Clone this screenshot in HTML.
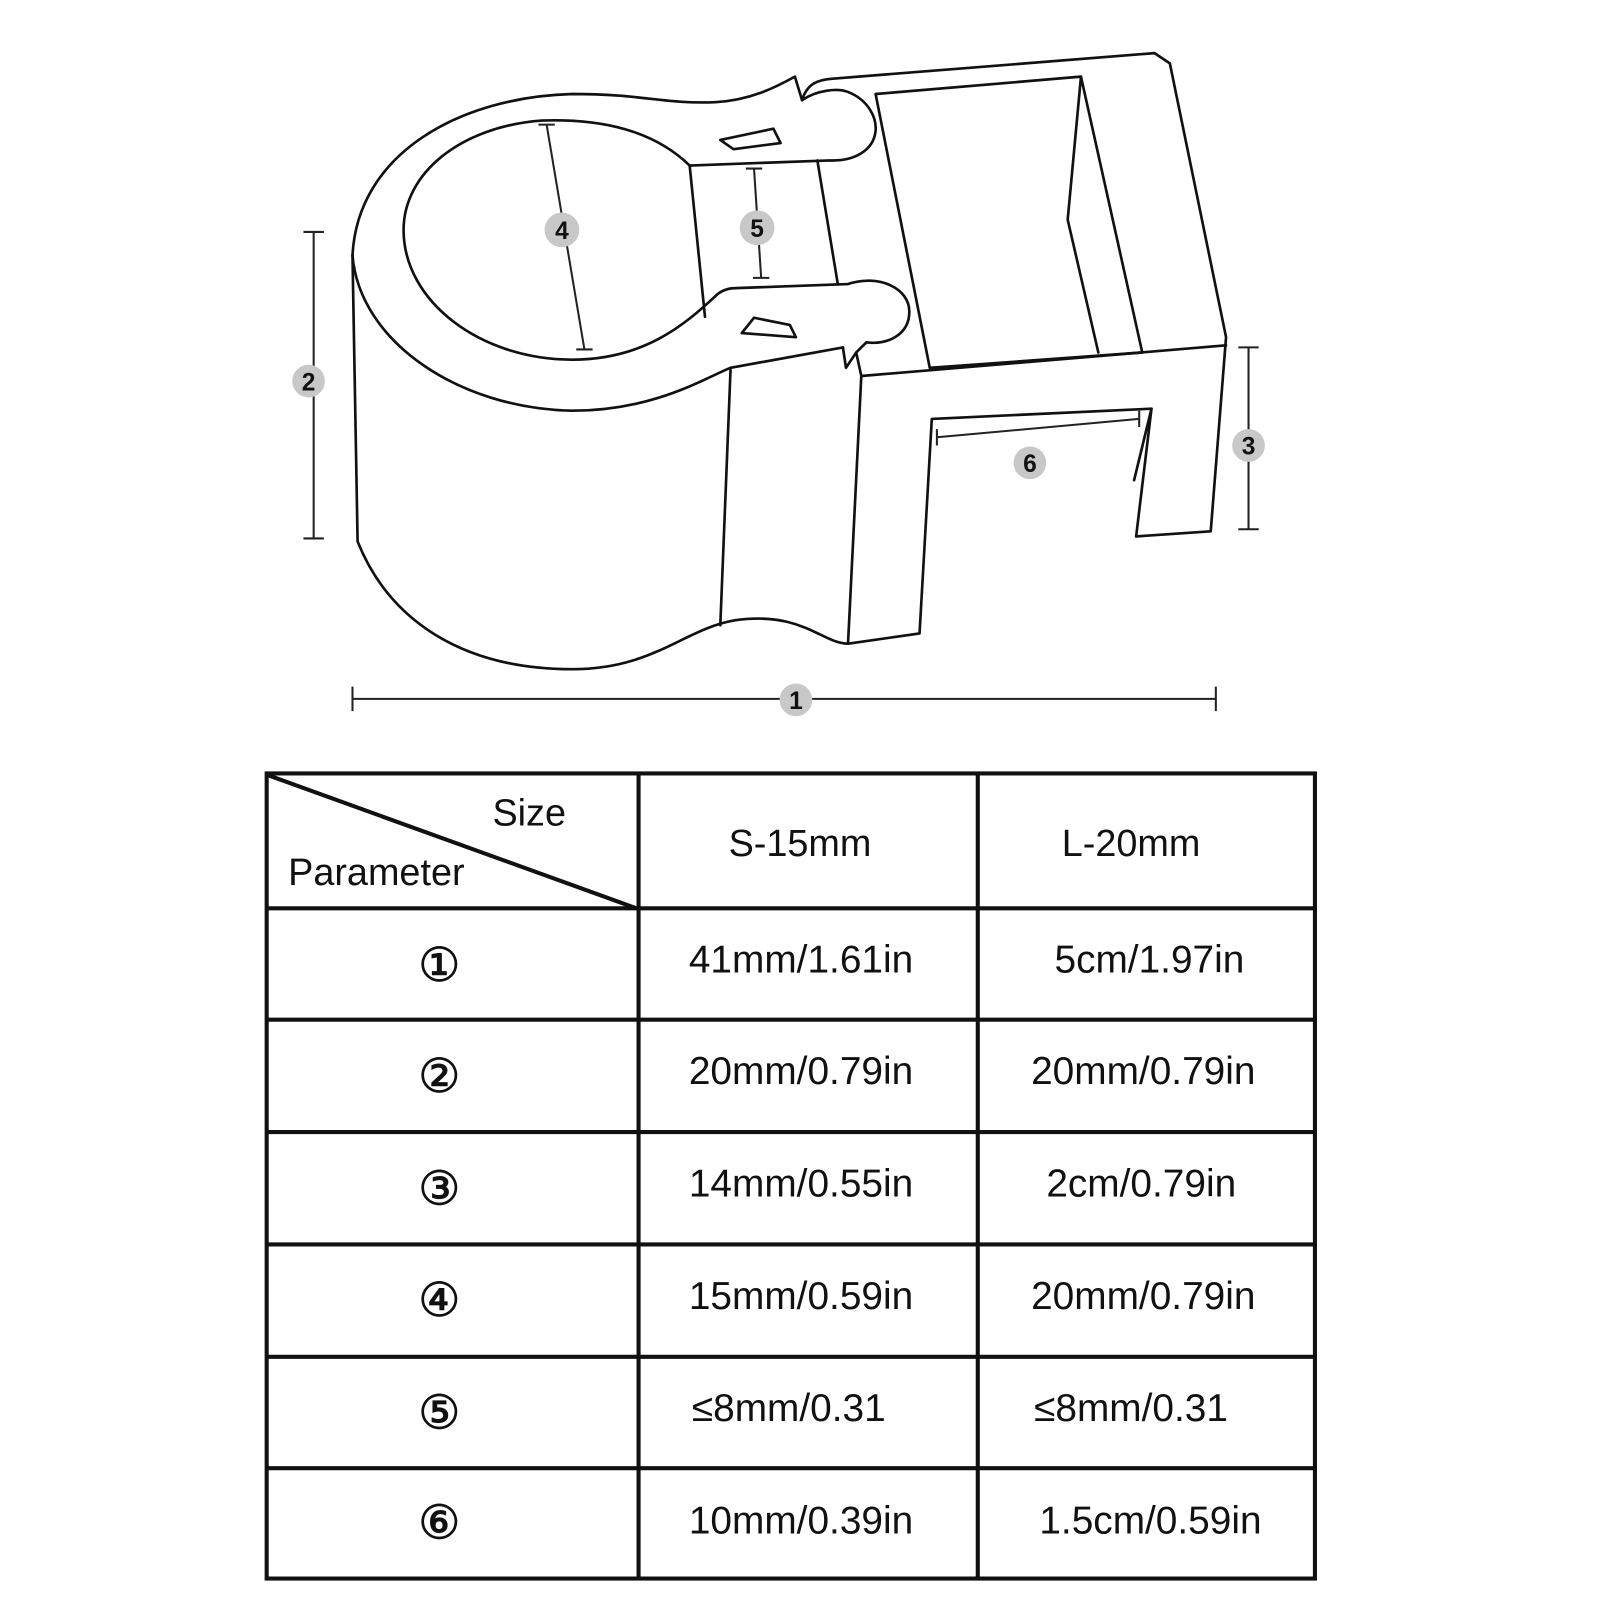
<!DOCTYPE html>
<html><head><meta charset="utf-8"><style>
html,body{margin:0;padding:0;background:#fff}
svg{display:block}
text{font-family:"Liberation Sans","DejaVu Sans",sans-serif;fill:#111}
</style></head><body>
<svg width="1600" height="1600" viewBox="0 0 1566 1566" xmlns="http://www.w3.org/2000/svg">
<rect width="1566" height="1566" fill="#fff"/>
<g fill="none" stroke="#111" stroke-width="2.6" stroke-linejoin="round" stroke-linecap="round">
<path d="M345,250 C350,150 450,95 560,92 C630,92 650,102 700,100 C735,98 760,85 778,75 L785,98"/>
<path d="M785,98 C790,82 800,78 815,77 L1130,52 L1145,62 L1200,330 L1185,520 L1112,525"/>
<path d="M785,98 C800,88 820,86 830,90 C850,98 858,115 857,128 C855,148 835,158 812,157 L675,162"/>
<path d="M675,162 C640,128 590,116 530,118 C450,124 395,170 395,225 C395,295 470,352 560,352 C630,352 670,318 700,290"/>
<path d="M700,290 C705,285 712,282 720,282 L830,278 C860,268 890,282 890,305 C890,328 868,338 848,335 L838,345 L828,360 L825,340"/>
<path d="M675,162 L690,310"/>
<path d="M800,157 L820,278"/>
<path d="M857,92 L1058,75 L1118,345 L910,360 Z"/>
<path d="M1058,75 L1045,215 L1075,345"/>
<path d="M843,368 L1200,338"/>
<path d="M838,345 L843,368 L830,630 L900,620 L912,410 L1127,400 L1112,525"/>
<path d="M1127,400 L1110,470"/>
<path d="M345,250 C352,335 450,400 560,402 C640,402 690,370 715,360 L825,340"/>
<path d="M345,250 L350,530 C380,605 450,655 560,655 C640,655 670,615 720,607 C785,598 805,630 830,630"/>
<path d="M715,362 L705,612"/>
<path d="M705,137 L757,126 L764,140 L718,146 Z"/>
<path d="M738,311 L773,318 L779,330 L726,326 Z"/>
</g>
<g stroke="#222" stroke-width="2" fill="none">
<path d="M345,684 L1190,684 M345,672 L345,696 M1190,672 L1190,696"/>
<path d="M307,227 L307,527 M297,227 L317,227 M297,527 L317,527"/>
<path d="M1222,340 L1222,518 M1212,340 L1232,340 M1212,518 L1232,518"/>
<path d="M535,122 L572,342 M527,122 L543,122 M564,342 L580,342"/>
<path d="M738,165 L745,272 M730,165 L746,165 M737,272 L753,272"/>
<path d="M917,428 L1115,410 M917,420 L917,436 M1115,402 L1115,418"/>
</g>
<g fill="#c8c8c8">
<circle cx="779" cy="685" r="16"/><circle cx="302" cy="373" r="16"/><circle cx="1222" cy="436" r="16"/>
<circle cx="550" cy="225" r="17"/><circle cx="741" cy="223" r="17"/><circle cx="1008" cy="453" r="16"/>
</g>
<g font-size="24" font-weight="bold" text-anchor="middle">
<text x="779" y="694">1</text><text x="302" y="382">2</text><text x="1222" y="445">3</text>
<text x="550" y="234">4</text><text x="741" y="232">5</text><text x="1008" y="462">6</text>
</g>
<g stroke="#111" stroke-width="4" fill="none">
<rect x="261" y="757" width="1026" height="788"/>
<path d="M625,757 L625,1545 M957,757 L957,1545"/>
<path d="M261,889 L1287,889 M261,998 L1287,998 M261,1108 L1287,1108 M261,1218 L1287,1218 M261,1328 L1287,1328 M261,1437 L1287,1437"/>
<path d="M263,759 L623,889"/>
</g>
<g font-size="37">
<text x="482" y="808">Size</text>
<text x="282" y="866">Parameter</text>
<text x="783" y="838" text-anchor="middle">S-15mm</text>
<text x="1107" y="838" text-anchor="middle">L-20mm</text>
</g>
<g font-size="38" text-anchor="middle">
<text x="784" y="952">41mm/1.61in</text><text x="1125" y="952">5cm/1.97in</text>
<text x="784" y="1061">20mm/0.79in</text><text x="1119" y="1061">20mm/0.79in</text>
<text x="784" y="1171">14mm/0.55in</text><text x="1117" y="1171">2cm/0.79in</text>
<text x="784" y="1281">15mm/0.59in</text><text x="1119" y="1281">20mm/0.79in</text>
<text x="772" y="1391">≤8mm/0.31</text><text x="1107" y="1391">≤8mm/0.31</text>
<text x="784" y="1501">10mm/0.39in</text><text x="1126" y="1501">1.5cm/0.59in</text>
</g>
<g font-size="46" text-anchor="middle" stroke="#111" stroke-width="0.8">
<text x="430" y="960">①</text><text x="430" y="1069">②</text><text x="430" y="1179">③</text>
<text x="430" y="1288">④</text><text x="430" y="1398">⑤</text><text x="430" y="1506">⑥</text>
</g>
</svg>
</body></html>
